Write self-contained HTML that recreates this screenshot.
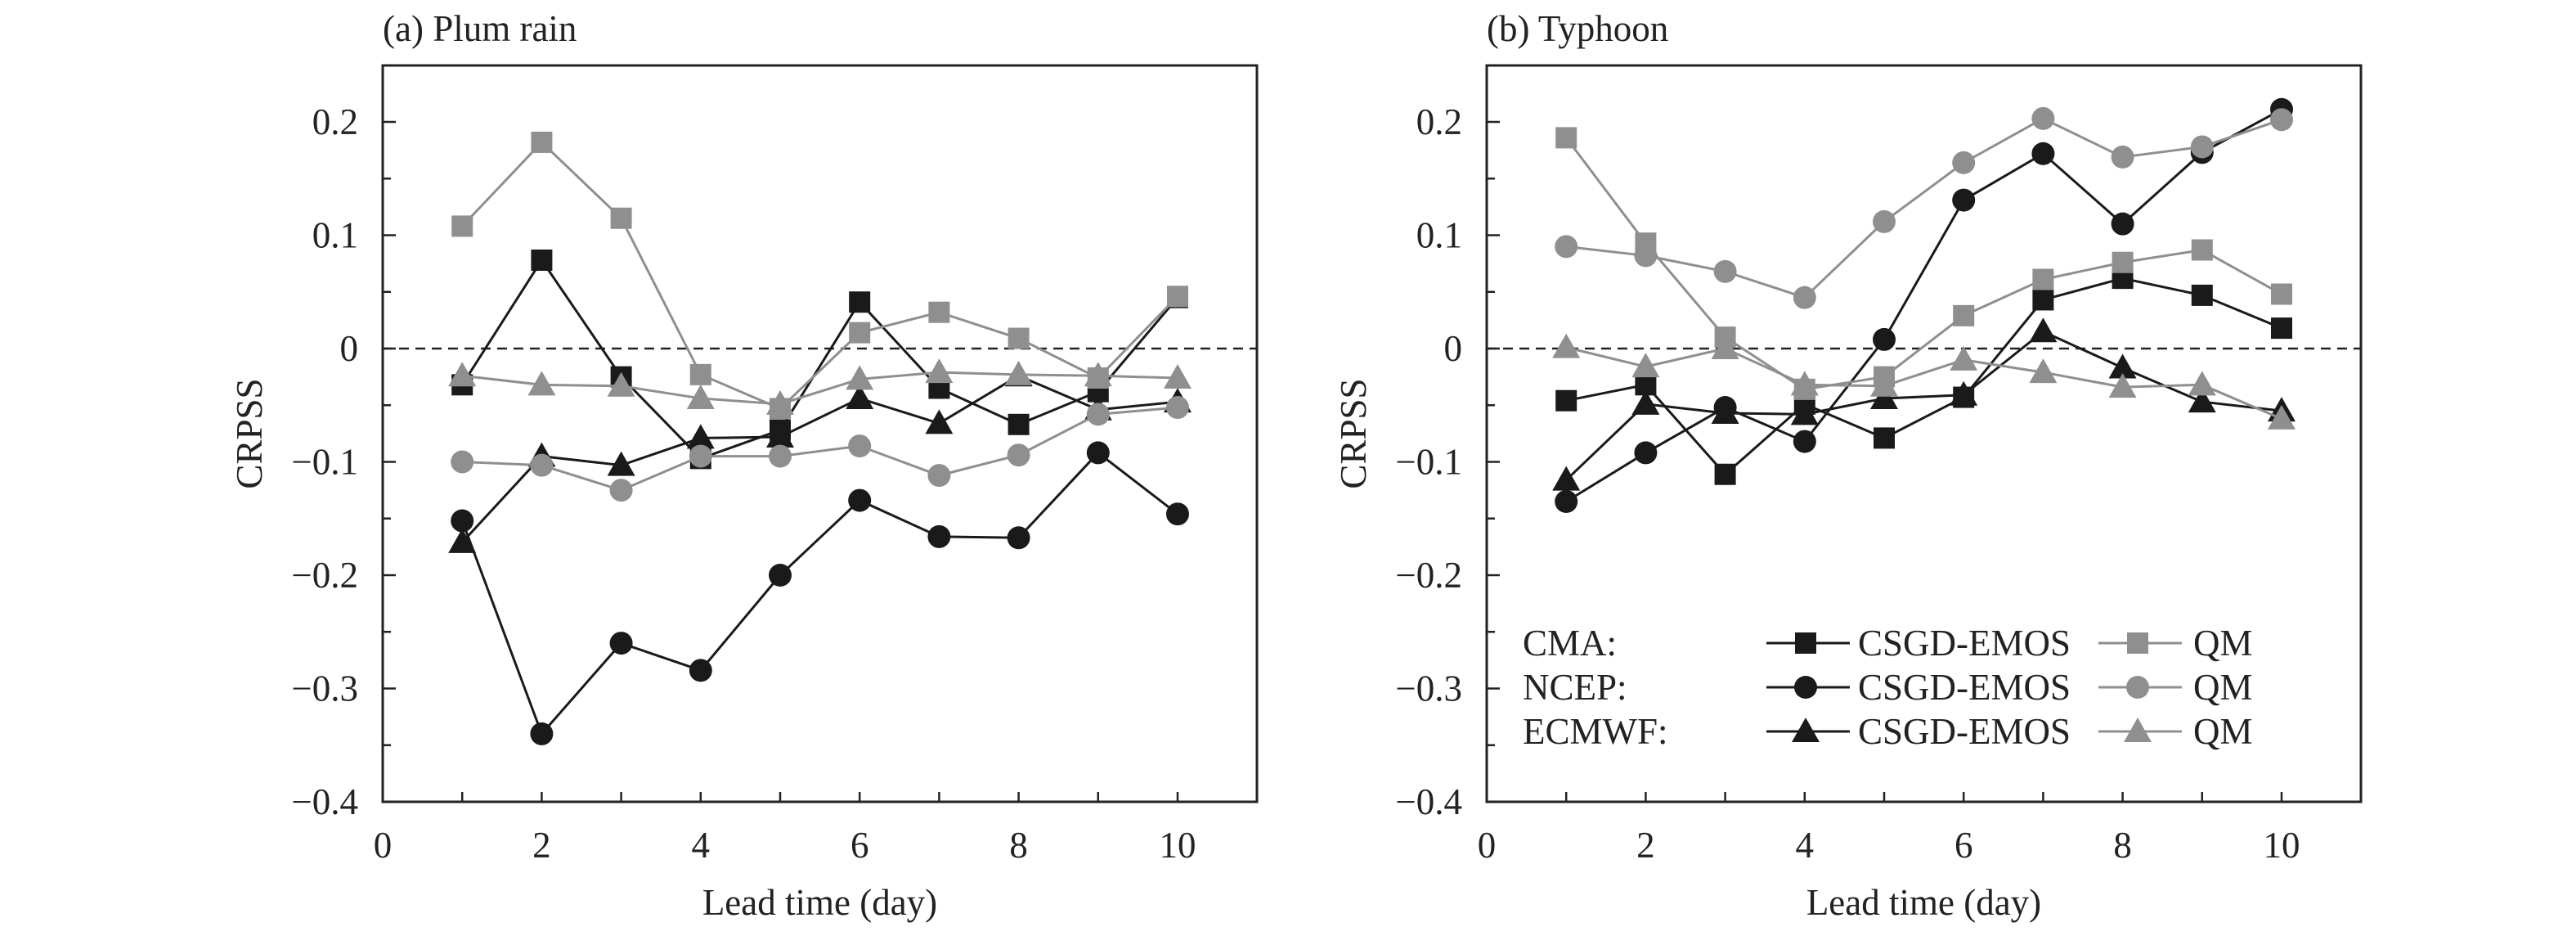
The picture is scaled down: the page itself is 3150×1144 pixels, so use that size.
<!DOCTYPE html>
<html><head><meta charset="utf-8"><style>
html,body{margin:0;padding:0;background:#fff;}
svg{display:block;font-family:"Liberation Serif",serif;}
</style></head><body>
<svg id="chart" width="3150" height="1144" viewBox="0 0 3150 1144" xmlns="http://www.w3.org/2000/svg"></svg>
<script>
const days = [1,2,3,4,5,6,7,8,9,10];
const xTicks = [0,2,4,6,8,10];
const yTicks = [0.2,0.1,0,-0.1,-0.2,-0.3,-0.4];
const yTickLabels = ["0.2","0.1","0","\u22120.1","\u22120.2","\u22120.3","\u22120.4"];
// Panel a: Plum rain
const plumCmaEmos = [-0.032,0.078,-0.025,-0.097,-0.072,0.041,-0.035,-0.067,-0.038,0.045];
const plumNcepEmos = [-0.152,-0.34,-0.26,-0.284,-0.2,-0.134,-0.166,-0.167,-0.092,-0.146];
const plumEcEmos = [-0.171,-0.095,-0.103,-0.079,-0.078,-0.044,-0.066,-0.024,-0.054,-0.047];
const plumCmaQm = [0.108,0.182,0.115,-0.023,-0.053,0.014,0.032,0.009,-0.026,0.046];
const plumNcepQm = [-0.1,-0.103,-0.125,-0.095,-0.095,-0.086,-0.112,-0.094,-0.058,-0.052];
const plumEcQm = [-0.024,-0.032,-0.033,-0.044,-0.049,-0.027,-0.021,-0.023,-0.024,-0.026];
// Panel b: Typhoon
const tyCmaEmos = [-0.046,-0.032,-0.111,-0.049,-0.079,-0.043,0.043,0.062,0.047,0.018];
const tyNcepEmos = [-0.135,-0.092,-0.052,-0.082,0.008,0.131,0.172,0.11,0.173,0.211];
const tyEcEmos = [-0.116,-0.049,-0.057,-0.058,-0.044,-0.041,0.015,-0.017,-0.047,-0.055];
const tyCmaQm = [0.186,0.093,0.01,-0.036,-0.025,0.029,0.061,0.076,0.087,0.048];
const tyNcepQm = [0.09,0.082,0.068,0.045,0.112,0.164,0.203,0.169,0.178,0.202];
const tyEcQm = [0.001,-0.016,0,-0.032,-0.033,-0.01,-0.021,-0.034,-0.032,-0.062];

const NS="http://www.w3.org/2000/svg";
const svg=document.getElementById('chart');
function el(tag,attrs,parent,text){const e=document.createElementNS(NS,tag);for(const k in attrs)e.setAttribute(k,attrs[k]);if(text!==undefined)e.textContent=text;(parent||svg).appendChild(e);return e;}
const BLACK="#1a1a1a", GRAY="#8f8f8f";

function marker(g,shape,cx,cy,color){
  let m;
  if(shape==='square') m=el('rect',{x:cx-13,y:cy-13,width:26,height:26,fill:color},g);
  else if(shape==='circle') m=el('circle',{cx:cx,cy:cy,r:14,fill:color},g);
  else m=el('polygon',{points:`${cx},${cy-17} ${cx+17},${cy+13} ${cx-17},${cy+13}`,fill:color},g);
  return m;
}

function panel(opt){
  const L=opt.left,R=opt.right,T=80,B=980;
  const x0=L, xs=(opt.x10-L)/10;
  const X=v=>x0+v*xs;
  const Y=v=>426-v*1385;
  const g=el('g',{});
  
  
  const t=el('text',{x:L,y:50,'font-size':45,fill:'#222'},g,opt.title);
  
  
  const box=el('rect',{x:L,y:T,width:R-L,height:B-T,fill:'none',stroke:'#222','stroke-width':3},g);
  
  
  // y ticks
  for(let v=-0.35;v<0.25;v+=0.05){
    const vv=Math.round(v*100)/100;
    const major=Math.abs(Math.round(vv*10)-vv*10)<1e-6;
    el('line',{x1:L,x2:L+(major?16:10),y1:Y(vv),y2:Y(vv),stroke:'#222','stroke-width':2.5},g);
  }
  yTicks.forEach((v,i)=>{
    const tl=el('text',{x:L-30,y:Y(v)+15,'font-size':45,'text-anchor':'end',fill:'#222'},g,yTickLabels[i]);
    
    
  });
  for(let d=1;d<=10;d++) el('line',{x1:X(d),x2:X(d),y1:B,y2:B-12,stroke:'#222','stroke-width':2.5},g);
  xTicks.forEach(v=>{
    const tl=el('text',{x:X(v),y:B+68,'font-size':45,'text-anchor':'middle',fill:'#222'},g,String(v));
    
    
  });
  const xt=el('text',{x:(L+R)/2,y:1118,'font-size':45,'text-anchor':'middle',fill:'#222'},g,'Lead time (day)');
  
  
  const yt=el('text',{x:0,y:0,'font-size':45,'text-anchor':'middle',fill:'#222',transform:`translate(${L-148},${(T+B)/2}) rotate(-90)`},g,'CRPSS');
  
  
  const zl=el('line',{x1:L,x2:R,y1:Y(0),y2:Y(0),stroke:'#222','stroke-width':2.5,'stroke-dasharray':'12,8'},g);
  
  
  opt.series.forEach(s=>{
    const sg=el('g',{},g);
    
    
    const pts=s.vals.map((v,i)=>`${X(days[i])},${Y(v)}`).join(' ');
    el('polyline',{points:pts,fill:'none',stroke:s.color,'stroke-width':3},sg);
    s.vals.forEach((v,i)=>{
      const m=marker(sg,s.shape,X(days[i]),Y(v),s.color);
      
      
    });
  });
}

panel({name:'panel-plum-rain',title:'(a) Plum rain',left:468,right:1537,x10:1440,series:[
  {name:'cma-csgd-emos',vals:plumCmaEmos,shape:'square',color:BLACK},
  {name:'ncep-csgd-emos',vals:plumNcepEmos,shape:'circle',color:BLACK},
  {name:'ecmwf-csgd-emos',vals:plumEcEmos,shape:'triangle',color:BLACK},
  {name:'cma-qm',vals:plumCmaQm,shape:'square',color:GRAY},
  {name:'ncep-qm',vals:plumNcepQm,shape:'circle',color:GRAY},
  {name:'ecmwf-qm',vals:plumEcQm,shape:'triangle',color:GRAY}]});
panel({name:'panel-typhoon',title:'(b) Typhoon',left:1818,right:2887,x10:2790,series:[
  {name:'cma-csgd-emos',vals:tyCmaEmos,shape:'square',color:BLACK},
  {name:'ncep-csgd-emos',vals:tyNcepEmos,shape:'circle',color:BLACK},
  {name:'ecmwf-csgd-emos',vals:tyEcEmos,shape:'triangle',color:BLACK},
  {name:'cma-qm',vals:tyCmaQm,shape:'square',color:GRAY},
  {name:'ncep-qm',vals:tyNcepQm,shape:'circle',color:GRAY},
  {name:'ecmwf-qm',vals:tyEcQm,shape:'triangle',color:GRAY}]});

// legend
const lg=el('g',{});


const rows=[['CMA:','square',786],['NCEP:','circle',840],['ECMWF:','triangle',894]];
rows.forEach(r=>{
  const y=r[2];
  const e=el('g',{},lg);
  
  
  el('text',{x:1862,y:y+15,'font-size':45,fill:'#222'},e,r[0]);
  el('line',{x1:2160,x2:2262,y1:y,y2:y,stroke:BLACK,'stroke-width':3},e);
  marker(e,r[1],2208,y,BLACK);
  el('text',{x:2272,y:y+15,'font-size':45,fill:'#222'},e,'CSGD-EMOS');
  el('line',{x1:2566,x2:2668,y1:y,y2:y,stroke:GRAY,'stroke-width':3},e);
  marker(e,r[1],2614,y,GRAY);
  el('text',{x:2682,y:y+15,'font-size':45,fill:'#222'},e,'QM');
});
</script>
</body></html>
